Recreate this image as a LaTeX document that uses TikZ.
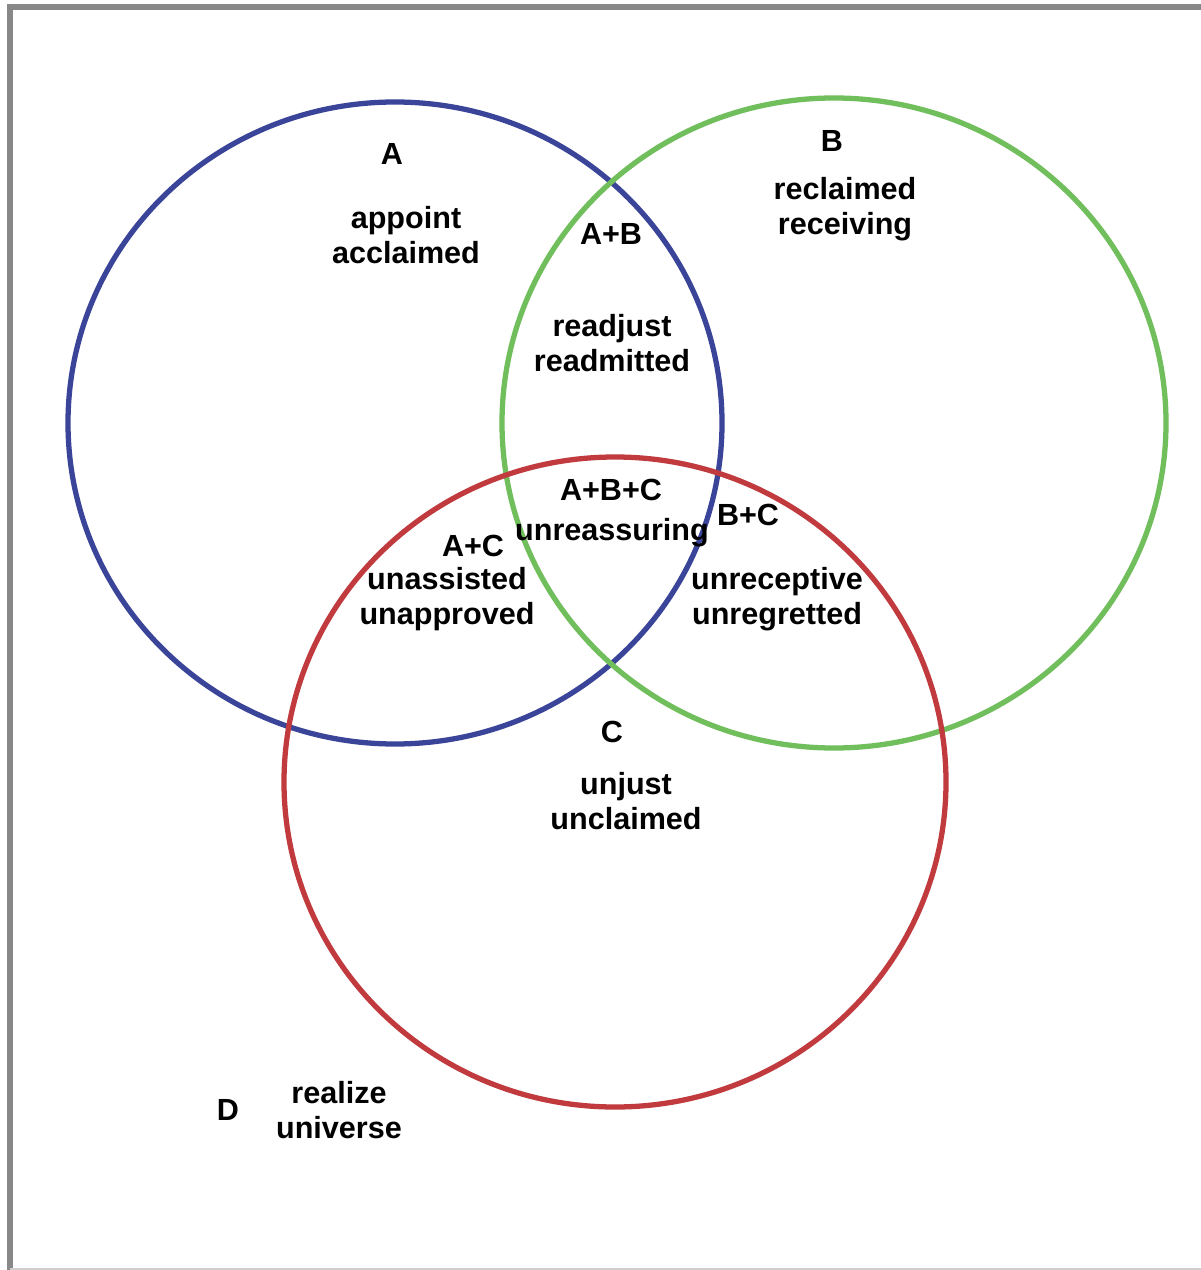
\documentclass[tikz,border=0pt]{standalone}
\usepackage{fontspec}
\setmainfont{Liberation Sans}
\definecolor{setA}{RGB}{58,68,152}
\definecolor{setB}{RGB}{112,190,92}
\definecolor{setC}{RGB}{192,58,62}
\definecolor{frame}{RGB}{136,136,136}
\tikzset{
	ring/.style={line width=3pt},
	word/.style={align=center, inner sep=0pt, font=\fontsize{17.4}{20.2}\selectfont\bfseries}
}
\begin{document}
\begin{tikzpicture}[x=0.02cm, y=-0.02cm]
		\useasboundingbox	(0, 0) rectangle (1200, 1270);
		\fill[white]	(0, 0) rectangle (1200, 1270);

		\draw[frame, line width=3pt]	(10, 1275) -- (10, 7) -- (1205, 7);
		\draw[frame!40, line width=1pt]	(10, 1269) -- (1205, 1269);

		\draw[ring, setA]	(395, 423) ellipse [x radius=327, y radius=321];
		\draw[ring, setB]	(834, 423) ellipse [x radius=332, y radius=325];
		\draw[ring, setC]	(615, 782) ellipse [x radius=331, y radius=325];

		\node[word] (labA)		at (392, 154)	{A};
		\node[word] (wordsA)	at (406, 235)	{appoint\\acclaimed};
		\node[word] (labB)		at (832, 141)	{B};
		\node[word] (wordsB)	at (845, 209)	{reclaimed\\receiving};
		\node[word] (labAB)		at (611, 234)	{A+B};
		\node[word] (wordsAB)	at (612, 343)	{readjust\\readmitted};
		\node[word] (labABC)	at (611, 490)	{A+B+C};
		\node[word] (wordsABC)	at (612, 533)	{unreassuring};
		\node[word] (labBC)		at (748, 515)	{B+C};
		\node[word] (labAC)		at (473, 546)	{A+C};
		\node[word] (wordsAC)	at (447, 599)	{unassisted\\unapproved};
		\node[word] (wordsBC)	at (777, 599)	{unreceptive\\unregretted};
		\node[word] (labC)		at (612, 732)	{C};
		\node[word] (wordsC)	at (626, 801)	{unjust\\unclaimed};
		\node[word] (labD)		at (228, 1110)	{D};
		\node[word] (wordsD)	at (339, 1110)	{realize\\universe};
	\end{tikzpicture}
\end{document}
